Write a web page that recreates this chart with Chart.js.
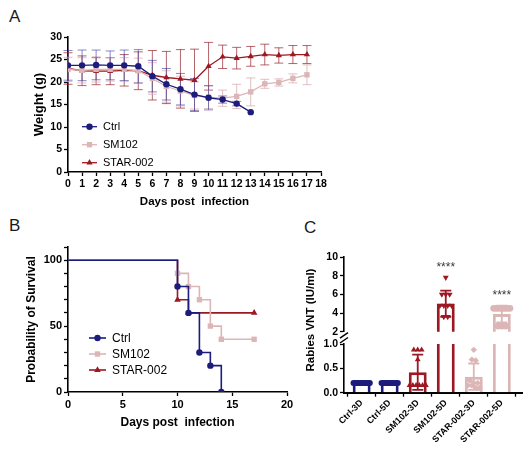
<!DOCTYPE html>
<html>
<head>
<meta charset="utf-8">
<script src="https://cdn.jsdelivr.net/npm/chart.js@4.4.1/dist/chart.umd.min.js"></script>
<style>
  html, body { margin:0; padding:0; background:#fff; }
  body { width:527px; height:451px; position:relative; overflow:hidden; font-family:"Liberation Sans", Arial, Helvetica, sans-serif; }
  canvas { position:absolute; display:block; }
  .pl { position:absolute; font-size:17px; line-height:1; color:#1a1a1a; }
  .yt { position:absolute; width:160px; text-align:center; font-weight:bold; font-size:11.5px; line-height:14px; transform:rotate(-90deg); color:#000; white-space:nowrap; }
</style>
</head>
<body>
<div class="pl" style="left:9px;top:8px;">A</div>
<div class="pl" style="left:9px;top:217px;">B</div>
<div class="pl" style="left:304px;top:219px;">C</div>
<canvas id="cA" width="335" height="200" style="left:0;top:20px;"></canvas>
<canvas id="cB" width="300" height="205" style="left:0;top:235px;"></canvas>
<canvas id="cCt" width="227" height="100" style="left:300px;top:240px;"></canvas>
<canvas id="cCb" width="227" height="121" style="left:300px;top:330px;"></canvas>
<div class="yt" style="left:230px;top:313px;">Rabies VNT (IU/ml)</div>
<script>
// ================= DATA =================
// Panel A: body weight (g), mean and SD per day
const daysA = [0,1,2,3,4,5,6,7,8,9,10,11,12,13,14,15,16,17];
const ctrlWeight  = [23.7,23.7,23.8,23.7,23.7,23.5,21.3,19.5,18.4,17.2,16.5,16.1,15.2,13.3,null,null,null,null];
const ctrlSD      = [3.3,3.4,3.3,3.2,3.4,3.7,3.5,3.5,3.5,3.6,2.7,0.8,0.5,0,null,null,null,null];
const sm102Weight = [22.8,22.6,22.8,22.8,22.8,22.5,20.8,19.0,18.0,17.0,16.6,16.4,16.8,17.8,19.6,19.9,20.8,21.6];
const sm102SD     = [2.7,2.8,2.8,2.6,2.6,2.8,3.5,3.5,3.3,3.0,2.5,1.8,2.7,3.1,1.0,0.8,1.0,2.2];
const starWeight  = [23.0,22.5,22.4,22.4,22.6,22.5,21.5,21.0,20.7,20.4,23.5,25.6,25.3,25.7,26.1,25.9,26.1,26.1];
const starSD      = [3.5,3.3,3.0,3.0,3.5,4.2,5.5,5.8,6.5,6.9,5.3,2.6,2.4,2.2,2.3,1.7,2.0,2.0];

// Panel B: Kaplan-Meier survival (%)
const ctrlSurvDays  = [0,10,11,12,13,14];
const ctrlSurv      = [100,80,60,30,20,0];
const sm102SurvDays = [0,10,11,12,13,14,17];
const sm102Surv     = [100,90,80,70,50,40,40];
const starSurvDays  = [0,10,11,17];
const starSurv      = [100,70,60,60];

// Panel C: Rabies VNT (IU/ml)
const groupsC  = ['Ctrl-3D','Ctrl-5D','SM102-3D','SM102-5D','STAR-002-3D','STAR-002-5D'];
const barMeans = [0.2,0.2,0.42,5.0,0.33,3.9];
const barSD    = [0,0,0.36,1.4,0.27,0.9];
const ptsCtrl3D  = [0.2,0.2,0.2,0.2,0.2,0.2,0.2,0.2,0.2,0.2];
const ptsCtrl5D  = [0.2,0.2,0.2,0.2,0.2,0.2,0.2,0.2,0.2,0.2];
const ptsSM3D    = [0.88,0.88,0.88,0.68,0.15,0.15,0.15,0.15,0.15,0.15];
const ptsSM5D    = [7.8,6.0,6.0,6.0,4.8,4.8,4.8,4.8,3.6,3.6];
const ptsSTAR3D  = [0.88,0.68,0.66,0.25,0.2,0.2,0.15,0.15,0.1,0.1];
const ptsSTAR5D  = [4.5,4.5,4.5,4.5,4.5,4.5,4.5,2.6,2.6,2.6];
const sigLabels  = ['','','','****','','****'];
const sigY       = [null,null,null,9.2,null,6.2];

// ================= STYLE =================
const NAVY = '#1c1c7c';
const PINK = '#dcb6b6';
const RED  = '#9c1822';
const FONT = '"Liberation Sans", Arial, Helvetica, sans-serif';

Chart.defaults.font.family = FONT;
Chart.defaults.color = '#000';
Chart.defaults.animation = false;
Chart.defaults.plugins.legend.display = false;
Chart.defaults.plugins.tooltip.enabled = false;

function drawMarker(ctx, style, x, y, r, rot) {
  if (Chart.helpers && Chart.helpers.drawPoint) {
    Chart.helpers.drawPoint(ctx, {pointStyle: style, radius: r, rotation: rot || 0, borderWidth: 0}, x, y);
    return;
  }
  ctx.beginPath();
  if (style === 'circle') ctx.arc(x, y, r, 0, Math.PI * 2);
  else if (style === 'rect') { const s = r * Math.SQRT1_2; ctx.rect(x - s, y - s, 2 * s, 2 * s); }
  else { ctx.moveTo(x, y - r); ctx.lineTo(x + r * 0.866, y + r / 2); ctx.lineTo(x - r * 0.866, y + r / 2); ctx.closePath(); }
  ctx.fill();
}

const axisBase = (fontSize) => ({
  grid: { drawOnChartArea: false, drawTicks: true, tickLength: 4, tickColor: '#000', tickWidth: 1.3 },
  border: { display: true, color: '#000', width: 1.6 },
  ticks: { font: { size: fontSize, weight: 'bold' }, color: '#000', padding: 2, autoSkip: false, maxRotation: 0 }
});

// error bars for panel A
const errBarsA = {
  id: 'errBarsA',
  beforeDatasetsDraw(chart) {
    const { ctx, scales: { x, y } } = chart;
    chart.data.datasets.slice().reverse().forEach(ds => {
      ctx.save();
      ctx.strokeStyle = ds.errColor;
      ctx.lineWidth = 1;
      ds.data.forEach(p => {
        const e = ds.errors[daysA.indexOf(p.x)];
        if (!e) return;
        const px = x.getPixelForValue(p.x);
        const hi = y.getPixelForValue(p.y + e), lo = y.getPixelForValue(p.y - e);
        ctx.beginPath();
        ctx.moveTo(px, hi); ctx.lineTo(px, lo);
        ctx.moveTo(px - 4.5, hi); ctx.lineTo(px + 4.5, hi);
        ctx.moveTo(px - 4.5, lo); ctx.lineTo(px + 4.5, lo);
        ctx.stroke();
      });
      ctx.restore();
    });
  }
};

// in-plot legend
const inLegend = {
  id: 'inLegend',
  afterDraw(chart, args, opts) {
    const ctx = chart.ctx;
    chart.data.datasets.forEach((ds, i) => {
      const y = opts.ys[i];
      ctx.save();
      ctx.strokeStyle = ds.borderColor;
      ctx.lineWidth = ds.borderWidth;
      ctx.beginPath(); ctx.moveTo(opts.x0, y); ctx.lineTo(opts.x1, y); ctx.stroke();
      ctx.fillStyle = ds.borderColor;
      drawMarker(ctx, ds.pointStyle, (opts.x0 + opts.x1) / 2, y, ds.legendR);
      ctx.fillStyle = '#000';
      ctx.font = opts.font;
      ctx.textAlign = 'left';
      ctx.textBaseline = 'middle';
      ctx.fillText(ds.label, opts.tx, y + 0.5);
      ctx.restore();
    });
  }
};

// ================= PANEL A =================
const toPtsA = ys => daysA.map((d, i) => ({ x: d, y: ys[i] })).filter(p => p.y != null);
function lineA(label, ys, errs, color, errColor, style, r) {
  return {
    label, data: toPtsA(ys), errors: errs, errColor,
    borderColor: color, backgroundColor: color, borderWidth: 1.3,
    pointStyle: style, pointRadius: r, legendR: r, pointBackgroundColor: color,
    pointBorderColor: color, pointBorderWidth: 0, tension: 0, fill: false
  };
}
const axA = axisBase(10.5), ayA = axisBase(10.5);
new Chart(document.getElementById('cA'), {
  type: 'line',
  data: {
    datasets: [
      lineA('Ctrl', ctrlWeight, ctrlSD, NAVY, 'rgba(40,40,150,0.55)', 'circle', 3.2),
      lineA('SM102', sm102Weight, sm102SD, PINK, 'rgba(215,170,175,0.75)', 'rect', 3.8),
      lineA('STAR-002', starWeight, starSD, RED, 'rgba(150,35,45,0.7)', 'triangle', 3.6)
    ]
  },
  options: {
    responsive: false,
    layout: { padding: { top: 17, right: 14, left: 0, bottom: 0 } },
    scales: {
      x: Object.assign(axA, {
        type: 'linear', min: 0, max: 18,
        afterFit: s => { s.height = 48; },
        ticks: Object.assign(axA.ticks, { stepSize: 1 }),
        title: { display: true, text: 'Days post  infection', font: { size: 11.5, weight: 'bold' }, padding: { top: 0, bottom: 11.4 } }
      }),
      y: Object.assign(ayA, {
        min: 0, max: 30,
        afterFit: s => { s.width = 68; },
        ticks: Object.assign(ayA.ticks, { stepSize: 5 }),
        title: { display: true, text: 'Weight (g)', font: { size: 13, weight: 'bold' }, padding: { top: 32, bottom: 0 } }
      })
    },
    plugins: {
      inLegend: { ys: [106.7, 124.7, 142.7], x0: 82, x1: 97, tx: 103, font: '11px ' + FONT }
    }
  },
  plugins: [errBarsA, inLegend]
});

// ================= PANEL B =================
function survDS(label, xs, ys, color, style, r) {
  return {
    label, data: xs.map((d, i) => ({ x: d, y: ys[i] })),
    stepped: true, borderColor: color, backgroundColor: color, borderWidth: 1.6,
    pointStyle: style, legendR: r,
    pointRadius: c => (c.dataIndex === 0 ? 0 : r),
    pointBackgroundColor: color, pointBorderWidth: 0, fill: false
  };
}
const axB = axisBase(11), ayB = axisBase(11);
new Chart(document.getElementById('cB'), {
  type: 'line',
  data: {
    datasets: [
      survDS('Ctrl', ctrlSurvDays, ctrlSurv, NAVY, 'circle', 3.2),
      survDS('SM102', sm102SurvDays, sm102Surv, PINK, 'rect', 3.8),
      survDS('STAR-002', starSurvDays, starSurv, RED, 'triangle', 3.8)
    ]
  },
  options: {
    responsive: false,
    layout: { padding: { top: 12, right: 13, left: 0, bottom: 0 } },
    scales: {
      x: Object.assign(axB, {
        type: 'linear', min: 0, max: 20,
        afterFit: s => { s.height = 48; },
        ticks: Object.assign(axB.ticks, { stepSize: 5 }),
        title: { display: true, text: 'Days post  infection', font: { size: 12, weight: 'bold' }, padding: { top: 0, bottom: 9.8 } }
      }),
      y: Object.assign(ayB, {
        min: 0, max: 110,
        afterFit: s => { s.width = 68; },
        ticks: Object.assign(ayB.ticks, { stepSize: 10, callback: v => (v % 50 === 0 ? String(v) : '') }),
        title: { display: true, text: 'Probability of Survival', font: { size: 12, weight: 'bold' }, padding: { top: 24.5, bottom: 0 } }
      })
    },
    plugins: {
      inLegend: { ys: [103, 119, 135], x0: 89, x1: 106, tx: 112, font: '12px ' + FONT }
    }
  },
  plugins: [inLegend]
});

// ================= PANEL C =================
const barColors = [NAVY, NAVY, RED, RED, PINK, PINK];
const ptStyles  = ['circle', 'circle', 'triangle', 'triangle', 'rectRot', 'circle'];
const ptRot     = [0, 0, 0, 180, 0, 0];
const ptRad     = [3, 3, 3.4, 3.4, 3.2, 3.4];
const ptsC      = [ptsCtrl3D, ptsCtrl5D, ptsSM3D, ptsSM5D, ptsSTAR3D, ptsSTAR5D];

// horizontal spreading (beeswarm-like) of equal values within a column
function swarmPoints(vals, gi) {
  const thr = Math.max(...vals) > 1.5 ? 0.35 : 0.05;
  const rows = [];
  vals.forEach((v, k) => {
    let row = rows.find(r => Math.abs(r.v - v) <= thr);
    if (!row) { row = { v, idx: [] }; rows.push(row); }
    row.idx.push(k);
  });
  const out = [];
  rows.forEach(row => {
    const n = row.idx.length;
    const step = n > 1 ? Math.min(0.14, 0.58 / (n - 1)) : 0;
    row.idx.forEach((k, j) => out.push({ x: gi + (j - (n - 1) / 2) * step, y: vals[k] }));
  });
  return out;
}

const cDecor = {
  id: 'cDecor',
  afterDatasetDraw(chart, args) {
    if (args.index !== 0) return;
    const { ctx, chartArea: a, scales: { x, y } } = chart;
    ctx.save();
    ctx.beginPath(); ctx.rect(a.left, a.top, a.right - a.left, a.bottom - a.top); ctx.clip();
    barMeans.forEach((m, i) => {
      const sd = barSD[i];
      if (!sd) return;
      const px = x.getPixelForValue(i);
      const hi = y.getPixelForValue(m + sd), lo = y.getPixelForValue(m - sd);
      ctx.strokeStyle = barColors[i];
      ctx.lineWidth = 1.8;
      ctx.beginPath();
      ctx.moveTo(px, hi); ctx.lineTo(px, lo);
      ctx.moveTo(px - 5.5, hi); ctx.lineTo(px + 5.5, hi);
      ctx.moveTo(px - 5.5, lo); ctx.lineTo(px + 5.5, lo);
      ctx.stroke();
    });
    ctx.restore();
  },
  afterDraw(chart, args, opts) {
    const { ctx, chartArea: a, scales: { x, y } } = chart;
    ctx.save();
    if (opts.stars) {
      ctx.fillStyle = '#3a3a3a';
      ctx.font = '12px ' + FONT;
      ctx.textAlign = 'center';
      ctx.textBaseline = 'alphabetic';
      sigLabels.forEach((s, i) => {
        if (!s) return;
        ctx.fillText(s, x.getPixelForValue(i), y.getPixelForValue(sigY[i]) + 6.5);
      });
    }
    ctx.strokeStyle = '#000';
    ctx.lineWidth = 1.5;
    ctx.beginPath();
    if (opts.brk === 'bottom') {
      ctx.moveTo(a.left - 4, a.bottom + 6.5); ctx.lineTo(a.left + 4, a.bottom + 1);
    } else if (opts.brk === 'top') {
      ctx.moveTo(a.left - 4, a.top - 1); ctx.lineTo(a.left + 4, a.top - 6.5);
    }
    ctx.stroke();
    ctx.restore();
  }
};

function datasetsC() {
  return [
    {
      type: 'bar', data: groupsC.map((g, i) => ({ x: i, y: barMeans[i] })),
      backgroundColor: '#fff', borderColor: barColors, borderWidth: 3, borderSkipped: 'start',
      barPercentage: 0.8, categoryPercentage: 0.8, clip: 0, order: 2
    },
    ...ptsC.map((arr, i) => ({
      type: 'scatter', data: swarmPoints(arr, i),
      pointStyle: ptStyles[i], pointRotation: ptRot[i], pointRadius: ptRad[i],
      pointBackgroundColor: barColors[i], pointBorderWidth: 0, showLine: false, clip: 0, order: 0
    }))
  ];
}

function xScaleC(display) {
  const b = axisBase(9);
  return Object.assign(b, {
    type: 'linear', min: -0.63, max: 5.72, offset: false, display,
    afterBuildTicks: s => { s.ticks = groupsC.map((g, i) => ({ value: i })); },
    afterFit: s => { if (display) s.height = 58.3; },
    border: { display: true, color: '#000', width: 2 },
    ticks: Object.assign(b.ticks, { minRotation: 45, maxRotation: 45, padding: 1, callback: v => groupsC[Math.round(v)] })
  });
}

// top segment (2-10)
const ayCt = axisBase(10.5);
new Chart(document.getElementById('cCt'), {
  type: 'bar',
  data: { datasets: datasetsC() },
  options: {
    responsive: false,
    layout: { padding: { top: 17, right: 5, left: 0, bottom: 8.3 } },
    scales: {
      x: xScaleC(false),
      y: Object.assign(ayCt, {
        type: 'linear', min: 2, max: 10,
        afterFit: s => { s.width = 44; },
        ticks: Object.assign(ayCt.ticks, { stepSize: 2 })
      })
    },
    plugins: { cDecor: { stars: true, brk: 'bottom' } }
  },
  plugins: [cDecor]
});

// bottom segment (0-1)
const ayCb = axisBase(10.5);
new Chart(document.getElementById('cCb'), {
  type: 'bar',
  data: { datasets: datasetsC() },
  options: {
    responsive: false,
    layout: { padding: { top: 14, right: 5, left: 0, bottom: 0 } },
    scales: {
      x: xScaleC(true),
      y: Object.assign(ayCb, {
        type: 'linear', min: 0, max: 1,
        afterFit: s => { s.width = 44; },
        ticks: Object.assign(ayCb.ticks, { stepSize: 0.5, callback: v => Number(v).toFixed(1) })
      })
    },
    plugins: { cDecor: { stars: false, brk: 'top' } }
  },
  plugins: [cDecor]
});
</script>
</body>
</html>
